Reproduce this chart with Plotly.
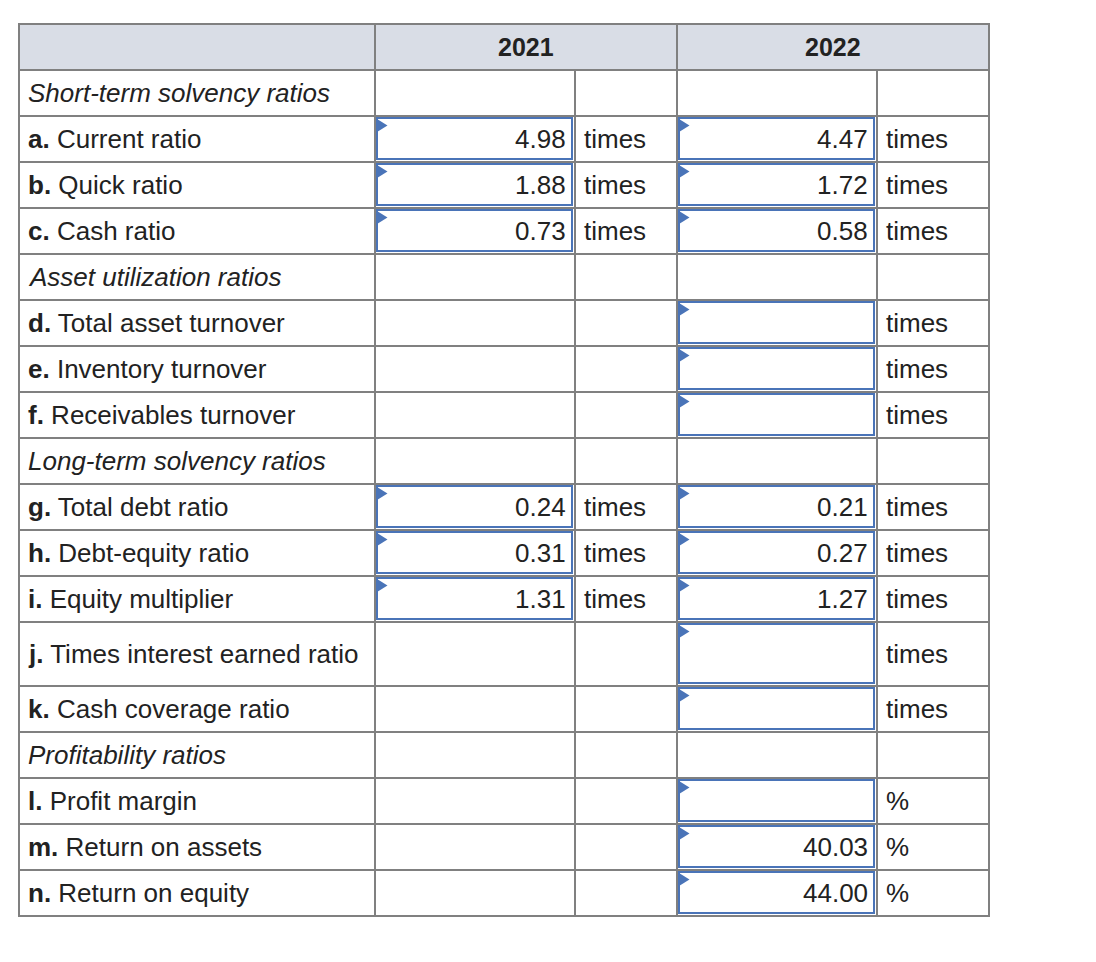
"""
Ratio table: 2021 vs 2022, drawn with plotly shapes and annotations
"""
import plotly.graph_objects as go

# ---- data ----
row_letters = [None, "a.", "b.", "c.", None, "d.", "e.", "f.", None,
               "g.", "h.", "i.", "j.", "k.", None, "l.", "m.", "n."]
row_names = ["Short-term solvency ratios", "Current ratio", "Quick ratio", "Cash ratio",
             "Asset utilization ratios", "Total asset turnover", "Inventory turnover",
             "Receivables turnover", "Long-term solvency ratios", "Total debt ratio",
             "Debt-equity ratio", "Equity multiplier", "Times interest earned ratio",
             "Cash coverage ratio", "Profitability ratios", "Profit margin",
             "Return on assets", "Return on equity"]
years = ["2021", "2022"]
values_2021 = [None, 4.98, 1.88, 0.73, None, None, None, None, None,
               0.24, 0.31, 1.31, None, None, None, None, None, None]
values_2022 = [None, 4.47, 1.72, 0.58, None, None, None, None, None,
               0.21, 0.27, 1.27, None, None, None, None, 40.03, 44.00]
input_2021 = [0, 1, 1, 1, 0, 0, 0, 0, 0, 1, 1, 1, 0, 0, 0, 0, 0, 0]
input_2022 = [0, 1, 1, 1, 0, 1, 1, 1, 0, 1, 1, 1, 1, 1, 0, 1, 1, 1]
units_2021 = ["", "times", "times", "times", "", "", "", "", "",
              "times", "times", "times", "", "", "", "", "", ""]
units_2022 = ["", "times", "times", "times", "", "times", "times", "times", "",
              "times", "times", "times", "times", "times", "", "%", "%", "%"]

# ---- layout constants (page pixels) ----
W, H = 1096, 962
PAD = 8  # body margin of the html page
COLS = [19, 375, 575, 677, 877, 989]
TOP, HEADER_H = 24, 46
ROW_H, TALL_H = 46, 64
TALL_ROWS = {12}
GRID = "#808080"
BLUE = "#4a74b8"
HEAD_BG = "#d9dde6"
TEXT = "#222222"
FONT = "Liberation Sans, Arial, Helvetica, sans-serif"
FS = 26
FS_HEAD = 25

row_tops = []
y = TOP + HEADER_H
for i in range(len(row_names)):
    row_tops.append(y)
    y += TALL_H if i in TALL_ROWS else ROW_H
BOTTOM = y

shapes = []
annotations = []

# header background
shapes.append(dict(type="rect", x0=COLS[0], x1=COLS[5], y0=TOP, y1=TOP + HEADER_H,
                   fillcolor=HEAD_BG, line=dict(width=0), layer="below"))

# answer boxes with the little flag in the corner
def add_box(x0, x1, y0, y1):
    shapes.append(dict(type="rect", x0=x0 + 2, x1=x1 - 3, y0=y0 + 2, y1=y1 - 3,
                       fillcolor="white", line=dict(color=BLUE, width=2)))
    tx, ty = x0 + 2, y0 + 3
    shapes.append(dict(type="path", path=f"M {tx},{ty} L {tx + 10.5},{ty + 6.5} L {tx},{ty + 13} Z",
                       fillcolor=BLUE, line=dict(width=0)))

for i in range(len(row_names)):
    y0 = row_tops[i]
    y1 = y0 + (TALL_H if i in TALL_ROWS else ROW_H)
    ym = (y0 + y1) / 2

    if row_letters[i] is None:
        label = f"<i>{row_names[i]}</i>"
    else:
        label = f"<b>{row_letters[i]}</b> {row_names[i]}"
    annotations.append(dict(x=COLS[0] + 7, y=ym, text=label, xanchor="left", yanchor="middle"))

    for k, (vals, inputs, units) in enumerate([(values_2021, input_2021, units_2021),
                                              (values_2022, input_2022, units_2022)]):
        cx0, cx1 = COLS[1 + 2 * k], COLS[2 + 2 * k]
        if inputs[i]:
            add_box(cx0, cx1, y0, y1)
        if vals[i] is not None:
            annotations.append(dict(x=cx1 - 7, y=ym, text=f"{vals[i]:.2f}",
                                    xanchor="right", yanchor="middle"))
        if units[i]:
            annotations.append(dict(x=cx1 + 7, y=ym, text=units[i],
                                    xanchor="left", yanchor="middle"))

# grid lines
for yy in [TOP, TOP + HEADER_H] + row_tops[1:] + [BOTTOM]:
    shapes.append(dict(type="line", x0=COLS[0] - 1, x1=COLS[5] + 1, y0=yy, y1=yy,
                       line=dict(color=GRID, width=2)))
for xx in [COLS[0], COLS[1], COLS[3], COLS[5]]:
    shapes.append(dict(type="line", x0=xx, x1=xx, y0=TOP, y1=BOTTOM,
                       line=dict(color=GRID, width=2)))
for xx in [COLS[2], COLS[4]]:
    shapes.append(dict(type="line", x0=xx, x1=xx, y0=TOP + HEADER_H, y1=BOTTOM,
                       line=dict(color=GRID, width=2)))

for a in annotations:
    a.update(font=dict(family=FONT, size=FS, color=TEXT))

# header text
for k, yr in enumerate(years):
    annotations.append(dict(x=(COLS[1 + 2 * k] + COLS[3 + 2 * k]) / 2, y=TOP + HEADER_H / 2,
                            text=f"<b>{yr}</b>", xanchor="center", yanchor="middle",
                            font=dict(family=FONT, size=FS_HEAD, color=TEXT)))

for a in annotations:
    a.update(xref="x", yref="y", showarrow=False)

fig = go.Figure()
fig.update_layout(
    width=W - 2 * PAD, height=H - 2 * PAD, autosize=False,
    margin=dict(l=0, r=0, t=0, b=0),
    paper_bgcolor="white", plot_bgcolor="white",
    xaxis=dict(range=[PAD, W - PAD], visible=False, fixedrange=True),
    yaxis=dict(range=[H - PAD, PAD], visible=False, fixedrange=True),
    shapes=shapes, annotations=annotations, showlegend=False,
)
fig.write_html("out.html", config={"displayModeBar": False})
